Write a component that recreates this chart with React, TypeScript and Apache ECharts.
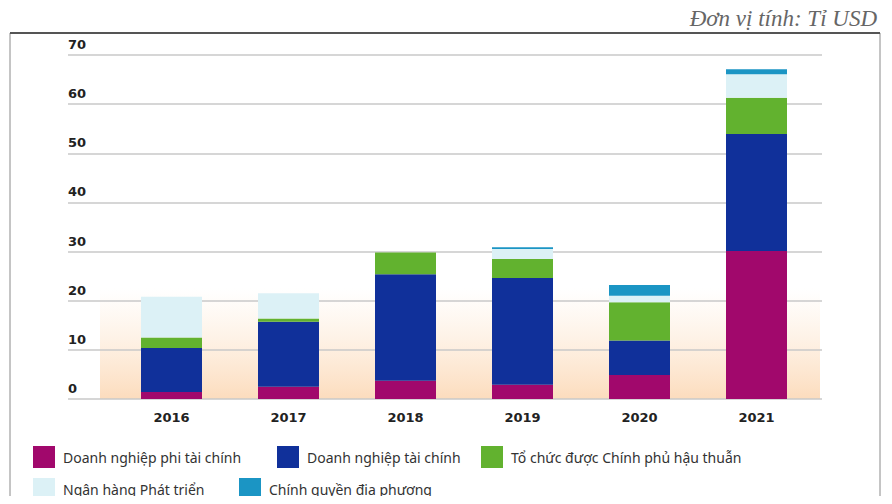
import React, { useEffect, useRef } from "react";
import * as echarts from "echarts";

const years = ["2016", "2017", "2018", "2019", "2020", "2021"];
const seriesNames = [
  "Doanh nghiệp phi tài chính",
  "Doanh nghiệp tài chính",
  "Tổ chức được Chính phủ hậu thuẫn",
  "Ngân hàng Phát triển",
  "Chính quyền địa phương",
];
const nonFinancial = [1.4, 2.5, 3.7, 2.9, 4.9, 30.1];
const financial = [9.0, 13.2, 21.7, 21.7, 7.0, 23.8];
const govBacked = [2.1, 0.7, 4.4, 3.9, 7.8, 7.4];
const devBank = [8.3, 5.1, 0, 2.0, 1.3, 4.8];
const localGov = [0, 0, 0, 0.4, 2.2, 1.0];
const colors = ["#a1086c", "#10309a", "#62b22f", "#dcf1f6", "#1b95c4"];
const yTicks = [0, 10, 20, 30, 40, 50, 60, 70];
const unitLabel = "Đơn vị tính: Tỉ USD";

const legendPos = [
  { x: 33, y: 446 },
  { x: 277, y: 446 },
  { x: 481, y: 446 },
  { x: 33, y: 478 },
  { x: 239, y: 478 },
];

export default function App() {
  const ref = useRef<HTMLDivElement>(null);
  useEffect(() => {
    if (!ref.current) return;
    const chart = echarts.init(ref.current, null, { renderer: "svg" });
    const data = [nonFinancial, financial, govBacked, devBank, localGov];
    const legendGraphics: any[] = [];
    seriesNames.forEach((n, i) => {
      legendGraphics.push({
        type: "rect",
        shape: { x: legendPos[i].x, y: legendPos[i].y, width: 22, height: 22 },
        style: { fill: colors[i] },
      });
      legendGraphics.push({
        type: "text",
        x: legendPos[i].x + 30,
        y: legendPos[i].y + 11,
        style: {
          text: n,
          fill: "#333",
          font: "14px 'Noto Sans'",
          verticalAlign: "middle",
        },
      });
    });
    chart.setOption({
      animation: false,
      title: {
        text: unitLabel,
        right: 10,
        top: 2,
        textStyle: {
          fontFamily: "'Liberation Serif'",
          fontStyle: "italic",
          fontWeight: "normal",
          fontSize: 23,
          color: "#666",
        },
      },
      grid: [
        { left: 68, right: 70, top: 55, bottom: 105 },
        { left: 113, right: 77, top: 55, bottom: 105 },
      ],
      xAxis: [
        { type: "value", gridIndex: 0, show: false, min: 0, max: 1 },
        {
          type: "category",
          gridIndex: 1,
          data: years,
          axisLine: { show: false },
          axisTick: { show: false },
          axisLabel: {
            margin: 12,
            fontFamily: "'DejaVu Sans'",
            fontWeight: "bold",
            fontSize: 13,
            color: "#222",
          },
        },
      ],
      yAxis: [
        {
          type: "value",
          gridIndex: 0,
          min: 0,
          max: 70,
          interval: 10,
          axisLine: { show: false },
          axisTick: { show: false },
          splitLine: { lineStyle: { color: "#c9c9c9", width: 1.5 } },
          axisLabel: {
            inside: true,
            margin: 0,
            align: "left",
            verticalAlign: "bottom",
            padding: [0, 0, 4, 0],
            fontFamily: "'DejaVu Sans'",
            fontWeight: "bold",
            fontSize: 13,
            color: "#222",
            formatter: (v: number) => (yTicks.includes(v) ? String(v) : ""),
          },
        },
        {
          type: "value",
          gridIndex: 1,
          min: 0,
          max: 70,
          interval: 10,
          show: false,
          splitLine: { show: false },
        },
      ],
      graphic: [
        {
          type: "rect",
          z: -10,
          shape: { x: 100, y: 288, width: 720, height: 111 },
          style: {
            fill: new echarts.graphic.LinearGradient(0, 0, 0, 1, [
              { offset: 0, color: "rgba(253,232,210,0)" },
              { offset: 1, color: "#fcdcbd" },
            ]),
          },
        },
        {
          type: "rect",
          z: 10,
          shape: { x: 10, y: 33, width: 870, height: 490 },
          style: { fill: "none", stroke: "#8a8a8a", lineWidth: 1 },
        },
        {
          type: "line",
          z: 11,
          shape: { x1: 10, y1: 33, x2: 880, y2: 33 },
          style: { stroke: "#555", lineWidth: 2 },
        },
        ...legendGraphics,
      ],
      series: seriesNames.map((n, i) => ({
        name: n,
        type: "bar",
        stack: "total",
        xAxisIndex: 1,
        yAxisIndex: 1,
        barWidth: 61,
        itemStyle: { color: colors[i] },
        data: data[i],
      })),
    });
    return () => chart.dispose();
  }, []);
  return <div ref={ref} style={{ width: 892, height: 504, margin: -8 }} />;
}
